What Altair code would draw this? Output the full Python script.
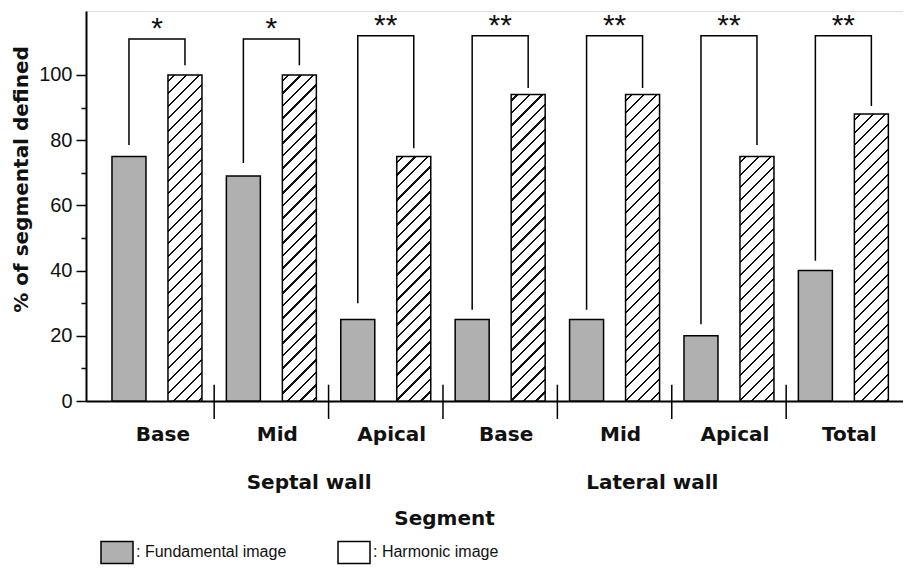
import altair as alt
import pandas as pd

# ---------------- data ----------------
groups = ["Septal|Base", "Septal|Mid", "Septal|Apical",
          "Lateral|Base", "Lateral|Mid", "Lateral|Apical", "All|Total"]
series = ["Fundamental", "Harmonic"]
fundamental = [75, 69, 25, 25, 25, 20, 40]
harmonic = [100, 100, 75, 94, 94, 75, 88]
stars = ["*", "*", "**", "**", "**", "**", "**"]
bracket_left = [78.5, 73, 30, 28, 28, 23.5, 43]
bracket_right = [103, 103, 77.5, 96, 96, 78.5, 90.5]
bracket_top = [111, 111, 112, 112, 112, 112, 112]
wall_labels = ["Septal wall", "Lateral wall"]
wall_groups = ["Septal|Mid", "Lateral|Mid"]
major_ticks = [0, 20, 40, 60, 80, 100]
minor_ticks = [10, 30, 50, 70, 90]

# ---------------- layout ----------------
TOP_PAD = 3
W, H = 817, 390
YMAX = 119.6
X_PAD_OUT, X_ALIGN = 0.0708, 0.85
OFF_PAD_IN, OFF_PAD_OUT = 0.393, 0.218

bars = pd.DataFrame({
    "grp": groups * 2,
    "series": ["Fundamental"] * len(groups) + ["Harmonic"] * len(groups),
    "value": fundamental + harmonic,
})
fund_df = bars[bars.series == "Fundamental"]

brk_rows = []
for g, l, r, t in zip(groups, bracket_left, bracket_right, bracket_top):
    brk_rows += [
        {"grp": g, "series": "Fundamental", "y": l, "k": 0},
        {"grp": g, "series": "Fundamental", "y": t, "k": 1},
        {"grp": g, "series": "Harmonic", "y": t, "k": 2},
        {"grp": g, "series": "Harmonic", "y": r, "k": 3},
    ]
brk_df = pd.DataFrame(brk_rows)
star_df = pd.DataFrame({"grp": groups, "top": bracket_top, "txt": stars})
sep_df = pd.DataFrame({"grp": groups[1:]})
wall_df = pd.DataFrame({"grp": wall_groups, "txt": wall_labels})

x_scale = alt.Scale(domain=groups, paddingInner=0, paddingOuter=X_PAD_OUT, align=X_ALIGN)
off_scale = alt.Scale(domain=series, paddingInner=OFF_PAD_IN, paddingOuter=OFF_PAD_OUT)
y_scale = alt.Scale(domain=[0, YMAX], nice=False, zero=True)

LABEL_FONT = "DejaVu Sans"
FUND_GRAY = "#b0b0b0"

x_axis = alt.Axis(
    title="Segment", labelExpr="peek(split(datum.label, '|'))",
    ticks=False, tickSize=0, domainColor="black", domainWidth=2,
    labelFont=LABEL_FONT, labelFontWeight="bold", labelFontSize=20, labelColor="#111",
    labelPadding=23, labelAngle=0, labelOffset=6, labelBaseline="top",
    titleFont=LABEL_FONT, titleFontWeight="bold", titleFontSize=20, titleColor="#111",
    titleX=358, titleY=107, titleBaseline="top",
)
y_axis = alt.Axis(
    orient="left", values=major_ticks, grid=False, ticks=True, tickSize=10,
    tickWidth=1.5, tickColor="black", domainColor="black", domainWidth=2,
    labelFont="Liberation Sans", labelFontSize=20, labelColor="#111", labelPadding=4,
    title="% of segmental defined", titleFont=LABEL_FONT, titleFontWeight="bold",
    titleFontSize=20, titleColor="#111", titleX=-65, titleY=168, titleBaseline="middle",
)
y_minor_axis = alt.Axis(
    orient="left", values=minor_ticks, grid=False, ticks=True, tickSize=5,
    tickWidth=1.5, tickColor="black", domain=False, labels=False, title=None,
)

x_enc = alt.X("grp:N", scale=x_scale, axis=x_axis, sort=groups)
off_enc = alt.XOffset("series:N", scale=off_scale)


def hatch(w, h, period=12.5, thick=2.2):
    span = w + h
    s = span / (w * w + h * h)
    stops = [{"offset": 0, "color": "#ffffff"}]
    c = period / 2
    while c - thick / 2 < span:
        a = max(0.0, (c - thick / 2) / span)
        b = min(1.0, (c + thick / 2) / span)
        stops += [{"offset": a, "color": "#ffffff"}, {"offset": a, "color": "#111111"},
                  {"offset": b, "color": "#111111"}, {"offset": b, "color": "#ffffff"}]
        c += period
    stops.append({"offset": 1, "color": "#ffffff"})
    return {"gradient": "linear", "x1": 0, "y1": 0, "x2": s * w, "y2": s * h, "stops": stops}


step = W / (len(groups) + 2 * X_PAD_OUT)
sub = step / (len(series) - OFF_PAD_IN + 2 * OFF_PAD_OUT)
BAR_W = sub * (1 - OFF_PAD_IN)

legend = alt.Legend(
    orient="none", legendX=14, legendY=527 - TOP_PAD, direction="horizontal",
    title=None, symbolType="M-1,-0.69H1V0.69H-1Z", symbolSize=1024,
    symbolStrokeColor="black", symbolStrokeWidth=1.5, symbolOpacity=1,
    labelExpr="datum.label == 'Fundamental' ? ': Fundamental image' : ': Harmonic image'",
    labelFont="Liberation Sans", labelFontSize=16, labelColor="#111", labelOffset=2,
    columnPadding=48, padding=0, labelLimit=300,
)

fund_layer = alt.Chart(fund_df).mark_bar(stroke="black", strokeWidth=1.5, opacity=1).encode(
    x=x_enc, xOffset=off_enc,
    y=alt.Y("value:Q", scale=y_scale, axis=y_axis),
    color=alt.Color("series:N", scale=alt.Scale(domain=series, range=[FUND_GRAY, "#ffffff"]),
                    legend=legend),
)

harm_layers = []
for g, v in zip(groups, harmonic):
    d = bars[(bars.series == "Harmonic") & (bars.grp == g)]
    harm_layers.append(
        alt.Chart(d).mark_bar(fill=hatch(BAR_W, v * H / YMAX), stroke="black", strokeWidth=1.5).encode(
            x=x_enc, xOffset=off_enc, y=alt.Y("value:Q", scale=y_scale, axis=None)))

brk_layer = alt.Chart(brk_df).mark_line(color="black", strokeWidth=1.5).encode(
    x=x_enc, xOffset=off_enc, y=alt.Y("y:Q", scale=y_scale, axis=y_minor_axis),
    detail="grp:N", order="k:Q")

star_layer = alt.Chart(star_df).mark_text(
    font="Liberation Sans", fontSize=30, baseline="alphabetic", dy=-1, color="#111").encode(
    x=x_enc, y=alt.Y("top:Q", scale=y_scale, axis=None), text="txt:N")

sep_layer = alt.Chart(sep_df).mark_rule(color="black", strokeWidth=1.5).encode(
    x=alt.X("grp:N", scale=x_scale, bandPosition=0, sort=groups),
    y=alt.Y(datum=5, axis=None), y2=alt.datum(-5.5))

wall_layer = alt.Chart(wall_df).mark_text(
    font=LABEL_FONT, fontWeight="bold", fontSize=20, baseline="middle", color="#111").encode(
    x=alt.X("grp:N", scale=x_scale, bandPosition=0.83, sort=groups),
    y=alt.Y(datum=-25, axis=None), text="txt:N")

chart = alt.layer(fund_layer, *harm_layers, brk_layer, star_layer, sep_layer, wall_layer).resolve_axis(
    y="independent"
).properties(
    width=W, height=H,
    padding={"left": 78, "top": TOP_PAD, "right": 0, "bottom": 170},
    autosize=alt.AutoSizeParams(type="none"),
).configure_view(stroke=None).configure(background="white")

chart.save("out.html", embed_options={"renderer": "svg", "actions": False})
